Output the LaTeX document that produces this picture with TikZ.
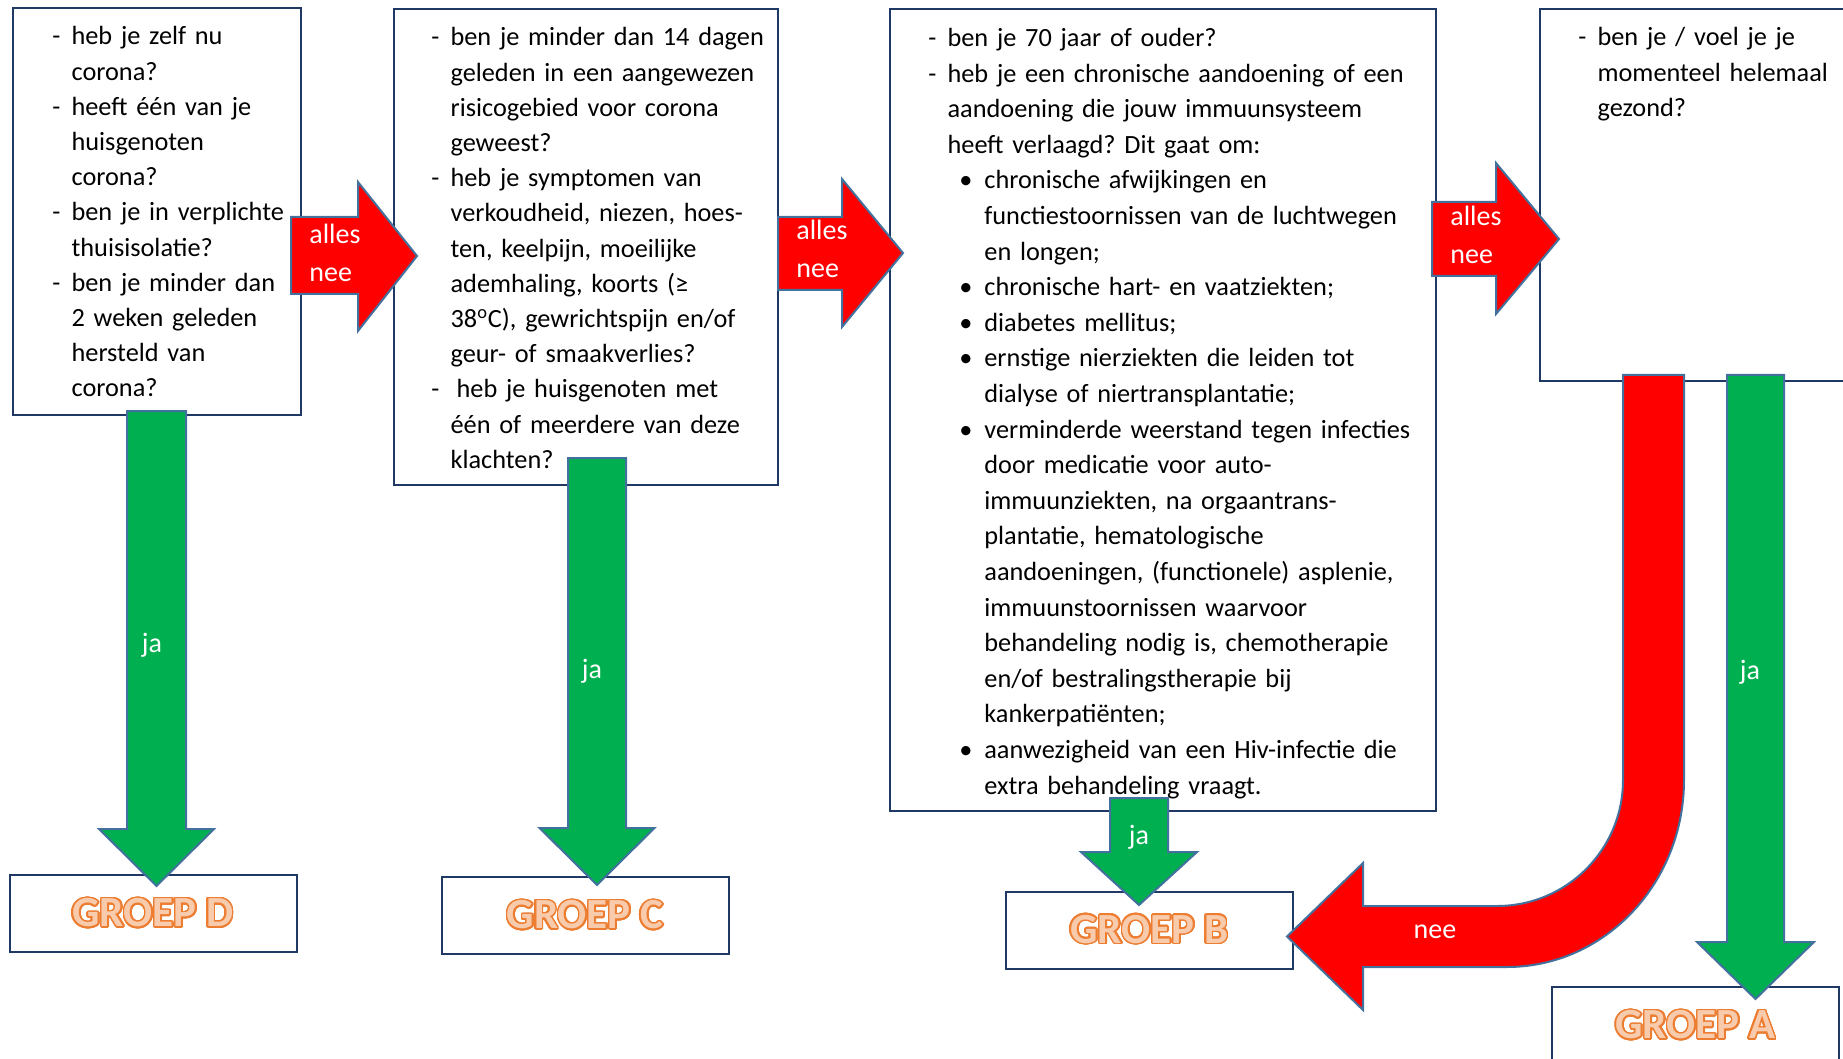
\documentclass[tikz,border=0pt]{standalone}
\usepackage{fontspec}
\setmainfont{Carlito}
\usepackage[copies]{contour}
\contourlength{0.8pt}
\contournumber{24}

\definecolor{boxblue}{HTML}{1F3864}
\definecolor{edgeblue}{HTML}{41719C}
\definecolor{jagreen}{HTML}{00B050}
\definecolor{neered}{HTML}{FF0000}
\definecolor{grouporange}{HTML}{ED7D31}
\definecolor{grouplight}{HTML}{F8CBAD}

\newcommand{\nl}{\hfil\break}
\newcommand{\dashitem}[1]{\hangindent=9.6pt\hangafter=1\noindent\makebox[9.6pt][l]{-}#1\par}
\newcommand{\bulitem}[1]{\hangindent=28pt\hangafter=1\noindent\hspace*{15.5pt}\makebox[12.5pt][l]{\textbullet}#1\par}

\begin{document}
\frenchspacing
\begin{tikzpicture}[x=0.5pt,y=-0.5pt,
  qbox/.style={draw=boxblue,line width=1pt,inner sep=0pt},
  qtext/.style={anchor=base west,inner sep=0pt,align=left,font=\fontsize{13.15pt}{17.6pt}\selectfont},
  groupbox/.style={draw=boxblue,line width=1pt,fill=white,inner sep=0pt,minimum width=143.5pt,minimum height=38.5pt,text=grouplight,font=\fontsize{21.5pt}{24pt}\selectfont\bfseries},
  redarrow/.style={fill=neered,draw=edgeblue,line width=1pt},
  greenarrow/.style={fill=jagreen,draw=edgeblue,line width=1pt},
  arrowlabel/.style={text=white,inner sep=0pt,align=left,font=\fontsize{14pt}{19pt}\selectfont}]

\useasboundingbox (0,0) rectangle (1843,1059);
\clip (0,0) rectangle (1843,1059);

\node[qbox,minimum width=144pt,minimum height=203.5pt] (q1) at (157,211.5) {};
\node[qbox,minimum width=192pt,minimum height=238pt] (q2) at (586,247) {};
\node[qbox,minimum width=273pt,minimum height=401pt] (q3) at (1163,410) {};
\node[qbox,minimum width=200pt,minimum height=186pt] (q4) at (1740,195) {};

\node[qtext,text width=150pt] (t1) at (52,45) {%
\dashitem{heb je zelf nu\nl corona?}
\dashitem{heeft één van je\nl huisgenoten\nl corona?}
\dashitem{ben je in verplichte\nl thuisisolatie?}
\dashitem{ben je minder dan\nl 2 weken geleden\nl hersteld van\nl corona?}};

\node[qtext,text width=220pt] (t2) at (431,46) {%
\dashitem{ben je minder dan 14 dagen\nl geleden in een aangewezen\nl risicogebied voor corona\nl geweest?}
\dashitem{heb je symptomen van\nl verkoudheid, niezen, hoes-\nl ten, keelpijn, moeilijke\nl ademhaling, koorts (≥\nl 38\textsuperscript{o}C), gewrichtspijn en/of\nl geur- of smaakverlies?}
\dashitem{\hspace*{3pt}heb je huisgenoten met\nl één of meerdere van deze\nl klachten?}};

\node[qtext,text width=300pt,font=\fontsize{13.15pt}{17.8pt}\selectfont] (t3) at (928,46.5) {%
\dashitem{ben je 70 jaar of ouder?}
\dashitem{heb je een chronische aandoening of een\nl aandoening die jouw immuunsysteem\nl heeft verlaagd? Dit gaat om:}
\bulitem{chronische afwijkingen en\nl functiestoornissen van de luchtwegen\nl en longen;}
\bulitem{chronische hart- en vaatziekten;}
\bulitem{diabetes mellitus;}
\bulitem{ernstige nierziekten die leiden tot\nl dialyse of niertransplantatie;}
\bulitem{verminderde weerstand tegen infecties\nl door medicatie voor auto-\nl immuunziekten, na orgaantrans-\nl plantatie, hematologische\nl aandoeningen, (functionele) asplenie,\nl immuunstoornissen waarvoor\nl behandeling nodig is, chemotherapie\nl en/of bestralingstherapie bij\nl kankerpatiënten;}
\bulitem{aanwezigheid van een Hiv-infectie die\nl extra behandeling vraagt.}};

\node[qtext,text width=150pt] (t4) at (1578,46) {%
\dashitem{ben je / voel je je\nl momenteel helemaal\nl gezond?}};

\node[groupbox] (gD) at (153,913.5) {\contour{grouporange}{GROEP D}};
\node[groupbox] (gC) at (585,915.5) {\contour{grouporange}{GROEP C}};
\node[groupbox] (gB) at (1149.5,930) {\contour{grouporange}{GROEP B}};
\node[groupbox] (gA) at (1695.5,1025.5) {\contour{grouporange}{GROEP A}};

% alles nee
\draw[redarrow] (291,217) -- (358,217) -- (358,182) -- (417,256) -- (358,331) -- (358,294) -- (291,294) -- cycle;
\draw[redarrow] (778,217) -- (842,217) -- (842,179) -- (903,253) -- (842,327) -- (842,290) -- (778,290) -- cycle;
\draw[redarrow] (1432,202) -- (1496,202) -- (1496,163) -- (1559,239) -- (1496,314) -- (1496,276) -- (1432,276) -- cycle;

% ja
\draw[greenarrow] (127,411) -- (186,411) -- (186,829) -- (214,829) -- (156.5,886) -- (99,829) -- (127,829) -- cycle;
\draw[greenarrow] (568,458) -- (626,458) -- (626,828) -- (654.5,828) -- (597,885) -- (539.5,828) -- (568,828) -- cycle;
\draw[greenarrow] (1110,798) -- (1168,798) -- (1168,852) -- (1197,852) -- (1139,905) -- (1081,852) -- (1110,852) -- cycle;
\draw[greenarrow] (1727,375) -- (1784,375) -- (1784,942) -- (1814,942) -- (1755.5,999) -- (1697,942) -- (1727,942) -- cycle;

% nee
\draw[redarrow] (1623,375) -- (1623,780) .. controls (1623,849.6) and (1566.6,906) .. (1497,906) -- (1363,906) -- (1363,863) -- (1287,936.5) -- (1363,1010) -- (1363,967) -- (1507,967) .. controls (1604.8,967) and (1684,883.3) .. (1684,780) -- (1684,375) -- cycle;

\node[arrowlabel,anchor=west] (n1) at (309,253) {alles\\nee};
\node[arrowlabel,anchor=west] (n2) at (796,249) {alles\\nee};
\node[arrowlabel,anchor=west] (n3) at (1450,235) {alles\\nee};
\node[arrowlabel] (j1) at (152,645) {ja};
\node[arrowlabel] (j2) at (592,671) {ja};
\node[arrowlabel] (j3) at (1139,837) {ja};
\node[arrowlabel] (j4) at (1750,672) {ja};
\node[arrowlabel] (n4) at (1435,932) {nee};

\end{tikzpicture}
\end{document}
